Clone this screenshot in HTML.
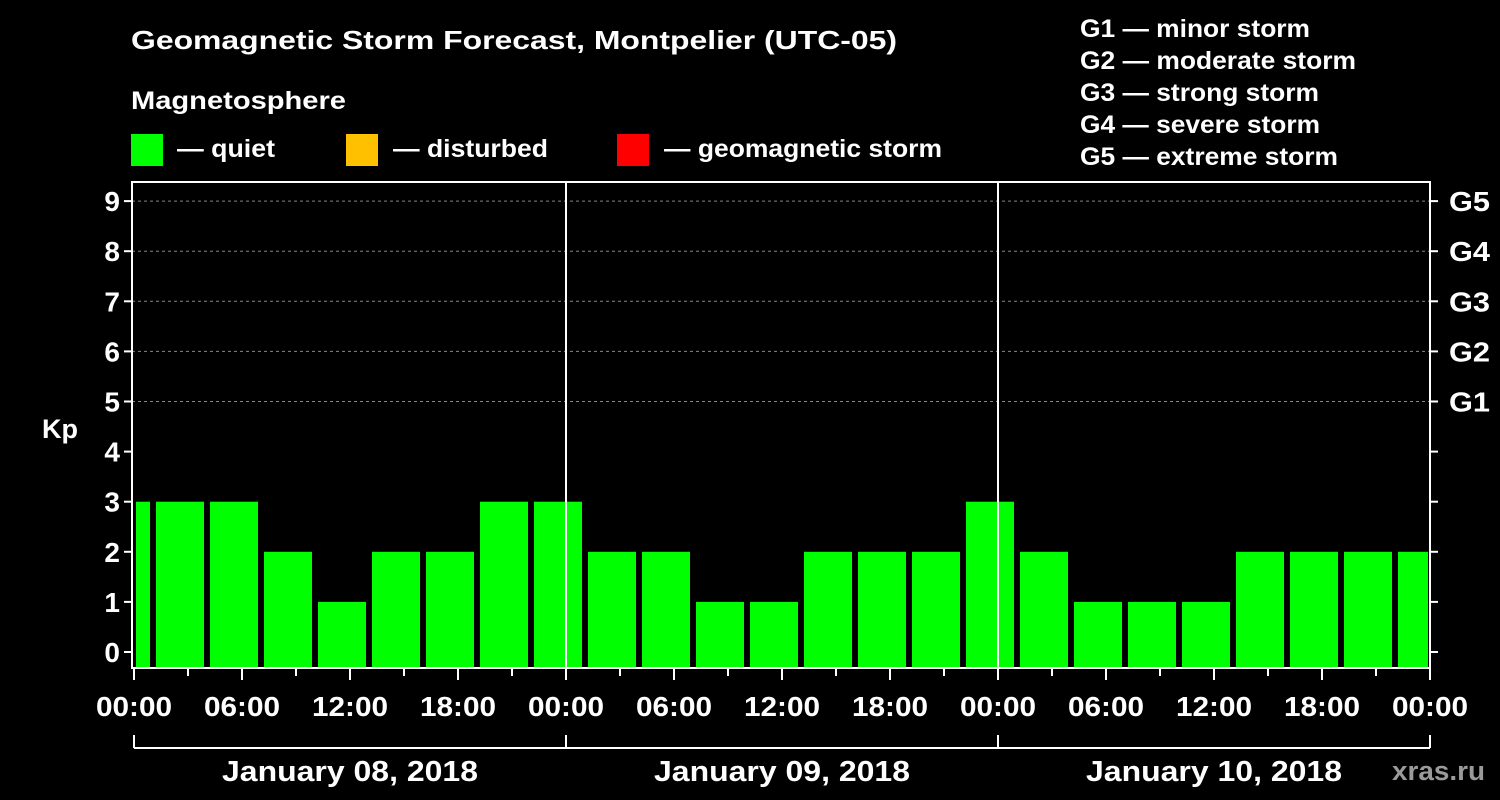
<!DOCTYPE html>
<html><head><meta charset="utf-8"><style>
html,body{margin:0;padding:0;background:#000;width:1500px;height:800px;overflow:hidden}
svg{display:block;font-family:"Liberation Sans",Arial,sans-serif;font-weight:bold}
</style></head><body>
<svg id="chart" width="1500" height="800" viewBox="0 0 1500 800">
<rect width="1500" height="800" fill="#000"/>
<text x="131" y="49" fill="#fff" font-size="26" textLength="766" lengthAdjust="spacingAndGlyphs">Geomagnetic Storm Forecast, Montpelier (UTC-05)</text>
<text x="131" y="109" fill="#fff" font-size="25" textLength="215" lengthAdjust="spacingAndGlyphs">Magnetosphere</text>
<g><rect x="131" y="134" width="32" height="32" fill="#00ff00"/><text x="177" y="157" fill="#fff" font-size="25" textLength="98" lengthAdjust="spacingAndGlyphs">— quiet</text></g>
<g><rect x="346" y="134" width="32" height="32" fill="#ffc000"/><text x="393" y="157" fill="#fff" font-size="25" textLength="155" lengthAdjust="spacingAndGlyphs">— disturbed</text></g>
<g><rect x="617" y="134" width="32" height="32" fill="#ff0000"/><text x="664" y="157" fill="#fff" font-size="25" textLength="278" lengthAdjust="spacingAndGlyphs">— geomagnetic storm</text></g>
<g fill="#fff" font-size="25" lengthAdjust="spacingAndGlyphs">
<text x="1080" y="37" textLength="230" lengthAdjust="spacingAndGlyphs">G1 — minor storm</text>
<text x="1080" y="69" textLength="276" lengthAdjust="spacingAndGlyphs">G2 — moderate storm</text>
<text x="1080" y="101" textLength="239" lengthAdjust="spacingAndGlyphs">G3 — strong storm</text>
<text x="1080" y="133" textLength="240" lengthAdjust="spacingAndGlyphs">G4 — severe storm</text>
<text x="1080" y="165" textLength="258" lengthAdjust="spacingAndGlyphs">G5 — extreme storm</text>
</g>
<text x="42" y="438" fill="#fff" font-size="27">Kp</text>
<g id="grid"></g><g id="bars"></g><g id="axes"></g>
<text x="1392" y="780" fill="#9a9a9a" font-size="27" textLength="93" lengthAdjust="spacingAndGlyphs">xras.ru</text>
</svg>
<script>
const kpValues=[3,3,3,2,1,2,2,3,3,2,2,1,1,2,2,2,3,2,1,1,1,2,2,2,2];
const barStartHours=[-2,1,4,7,10,13,16,19,22,25,28,31,34,37,40,43,46,49,52,55,58,61,64,67,70];
const yTicks=[0,1,2,3,4,5,6,7,8,9];
const gLabels=["G1","G2","G3","G4","G5"];
const xTickLabels=["00:00","06:00","12:00","18:00","00:00","06:00","12:00","18:00","00:00","06:00","12:00","18:00","00:00"];
const dayLabels=["January 08, 2018","January 09, 2018","January 10, 2018"];
const NS="http://www.w3.org/2000/svg";
const X0=134,PXH=18,L=132,R=1430,T=182,B=668;
const x=h=>X0+h*PXH;
const y=k=>652-k*50.1;
function mk(p,t,a){const e=document.createElementNS(NS,t);for(const k in a)e.setAttribute(k,a[k]);p.appendChild(e);return e;}
const grid=document.getElementById('grid'),bars=document.getElementById('bars'),axes=document.getElementById('axes');
for(let k=5;k<=9;k++){const l=mk(grid,'line',{x1:L,x2:R,y1:y(k),y2:y(k),stroke:'#888','stroke-dasharray':'3,3','stroke-width':1});

}
kpValues.forEach((v,i)=>{const s=barStartHours[i];let a=x(s)+4,b=x(s+3)-2;a=Math.max(a,L+4);b=Math.min(b,R-2);
const r=mk(bars,'rect',{x:a,y:y(v),width:b-a,height:B-1-y(v),fill:v>=5?'#ff0000':(v>=4?'#ffc000':'#00ff00')});

});
mk(axes,'rect',{x:L,y:T,width:R-L,height:B-T,fill:'none',stroke:'#fff','stroke-width':2});
[1,2].forEach(d=>{const l=mk(axes,'line',{x1:x(24*d),x2:x(24*d),y1:T,y2:B,stroke:'#fff','stroke-width':2});

});
yTicks.forEach(k=>{mk(axes,'line',{x1:L-8,x2:L,y1:y(k),y2:y(k),stroke:'#fff','stroke-width':2});
mk(axes,'line',{x1:R,x2:R+8,y1:y(k),y2:y(k),stroke:'#fff','stroke-width':2});
const t=mk(axes,'text',{x:L-12,y:y(k)+10,fill:'#fff','font-size':28,'text-anchor':'end'});t.textContent=k;

});
gLabels.forEach((g,i)=>{const t=mk(axes,'text',{x:R+19,y:y(5+i)+10,fill:'#fff','font-size':28,textLength:41,lengthAdjust:'spacingAndGlyphs'});t.textContent=g;

});
for(let h=0;h<=72;h+=3){mk(axes,'line',{x1:x(h),x2:x(h),y1:B,y2:B+(h%6===0?12:8),stroke:'#fff','stroke-width':2});}
xTickLabels.forEach((s,i)=>{const t=mk(axes,'text',{x:x(i*6)-38,y:716,fill:'#fff','font-size':28,textLength:76,lengthAdjust:'spacingAndGlyphs'});t.textContent=s;

});
mk(axes,'line',{x1:x(0),x2:x(72),y1:748,y2:748,stroke:'#fff','stroke-width':2});
for(let d=0;d<=3;d++)mk(axes,'line',{x1:x(24*d),x2:x(24*d),y1:735,y2:748,stroke:'#fff','stroke-width':2});
dayLabels.forEach((s,i)=>{const t=mk(axes,'text',{x:x(24*i+12)-128,y:781,fill:'#fff','font-size':29,textLength:256,lengthAdjust:'spacingAndGlyphs'});t.textContent=s;

});
</script>
</body></html>
